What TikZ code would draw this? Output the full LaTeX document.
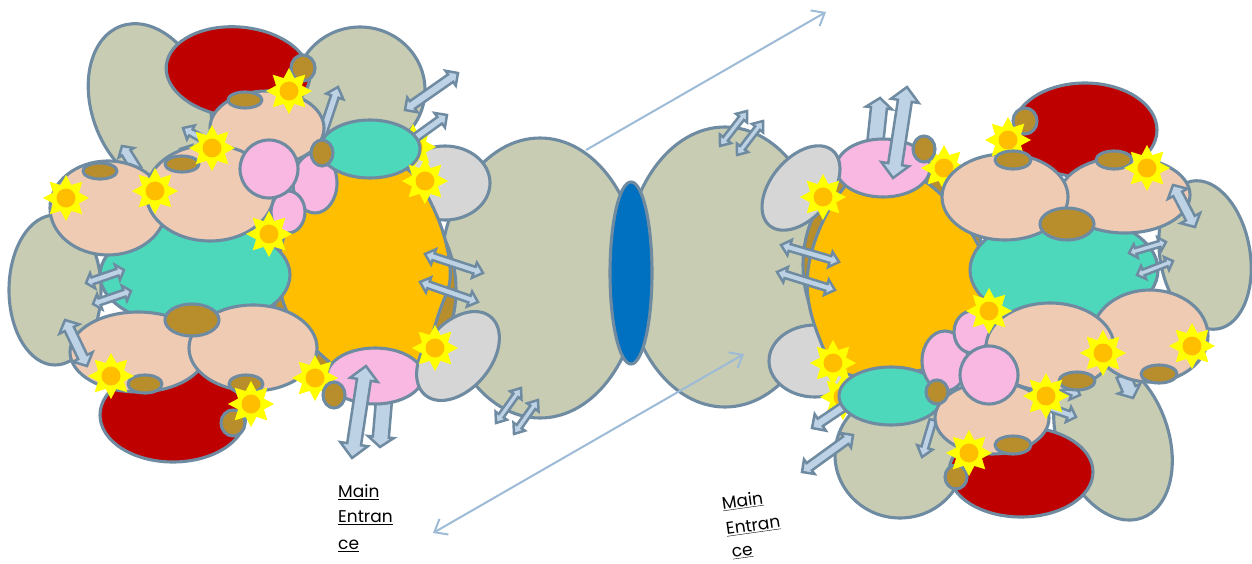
\documentclass[tikz,border=0pt]{standalone}
\usepackage{fontspec}
\usetikzlibrary{arrows.meta}
\setmainfont{Poppins}
\definecolor{edgec}{HTML}{6F8BA1}
\definecolor{khaki}{HTML}{C8CCB2}
\definecolor{redc}{HTML}{BF0000}
\definecolor{peach}{HTML}{F0CBB4}
\definecolor{tealc}{HTML}{4DD8BC}
\definecolor{orangec}{HTML}{FFBF00}
\definecolor{pinkc}{HTML}{F9B8E2}
\definecolor{grayc}{HTML}{D6D6D6}
\definecolor{brownc}{HTML}{B88E2C}
\definecolor{bluec}{HTML}{0070C0}
\definecolor{arrowfill}{HTML}{BED2E6}
\definecolor{linec}{HTML}{9DBBD6}
\definecolor{yellowc}{HTML}{FFFF00}
\tikzset{
  blobedge/.style={draw=edgec,line width=3.1pt,line join=round},
  arrowbody/.style={draw=edgec,fill=arrowfill,line width=2.5pt,line join=miter},
  thinline/.style={draw=linec,line width=2pt},
  linetip/.style={>={Straight Barb[length=11pt,width=18pt]}},
  textlabel/.style={anchor=west,inner sep=0pt,font=\fontsize{17}{20}\selectfont,text=black}
}
% #1 fill, #2 x, #3 y, #4 rx, #5 ry, #6 rotation
\newcommand{\blob}[6]{\path[blobedge,fill=#1,shift={(#2,#3)},rotate=#6] (0,0) ellipse [x radius=#4pt,y radius=#5pt];}
\newcommand{\sunny}[2]{\begin{scope}[shift={(#1,#2)}]
  \fill[yellowc] (0:23pt) \foreach \a in {0,45,...,315} { -- (\a+22.5:14pt) -- (\a+45:23pt)} -- cycle;
  \fill[orangec] (0,0) circle [radius=9.5pt];
\end{scope}}
\newcommand{\dblarrow}[7]{\pgfmathsetmacro\ang{atan2(-(#4-#2),#3-#1)}\pgfmathsetmacro\len{veclen(#3-#1,#4-#2)}
  \begin{scope}[shift={(#1,#2)},rotate=\ang]
  \path[arrowbody] (0pt,0pt) -- (#7pt,#6pt) -- (#7pt,#5pt) -- (\len pt-#7pt,#5pt) -- (\len pt-#7pt,#6pt) -- (\len pt,0pt) -- (\len pt-#7pt,-#6pt) -- (\len pt-#7pt,-#5pt) -- (#7pt,-#5pt) -- (#7pt,-#6pt) -- cycle;
  \end{scope}}
\newcommand{\sglarrow}[7]{\pgfmathsetmacro\ang{atan2(-(#4-#2),#3-#1)}\pgfmathsetmacro\len{veclen(#3-#1,#4-#2)}
  \begin{scope}[shift={(#1,#2)},rotate=\ang]
  \path[arrowbody] (0pt,#5pt) -- (\len pt-#7pt,#5pt) -- (\len pt-#7pt,#6pt) -- (\len pt,0pt) -- (\len pt-#7pt,-#6pt) -- (\len pt-#7pt,-#5pt) -- (0pt,-#5pt) -- cycle;
  \end{scope}}
\begin{document}
\begin{tikzpicture}[x=1pt,y=-1pt]
\useasboundingbox (0,0) rectangle (1252,564);
\coordinate (la) at (586,150); \coordinate (lb) at (826,12);
\coordinate (lc) at (744,354); \coordinate (ld) at (433,533);
\draw[thinline,linetip,->] (la) -- (lb);

% centre
\blob{khaki}{540}{278}{100}{140}{0}
\blob{khaki}{725}{267}{100}{140}{0}
\blob{bluec}{631}{273}{21}{91}{0}
\draw[thinline,linetip,<->] (lc) -- (ld);

% ---------- left cell ----------
\blob{khaki}{150}{106}{58}{85}{20}
\blob{khaki}{360}{90}{65}{63}{0}
\blob{khaki}{55}{290}{46}{75}{0}
\blob{redc}{238}{72}{72}{45}{-5}
\dblarrow{405}{110}{458}{73}{4.5}{9}{9}
\sglarrow{322}{135}{338}{87}{4}{9}{10}
\sglarrow{240}{160}{183}{128}{3.5}{8}{9}
\sglarrow{205}{160}{180}{149}{3.5}{8}{9}
\sglarrow{137}{170}{122}{146}{5}{9}{8}
\blob{grayc}{445}{183}{45}{37}{0}
\sunny{413}{147}
\sglarrow{415}{138}{447}{115}{4}{9}{9}
\blob{brownc}{365}{290}{91}{105}{0}
\path[blobedge,fill=orangec] plot[smooth cycle,tension=0.7] coordinates {(400,165) (432,205) (450,267) (440,310) (416,364) (370,375) (327,360) (282,298) (290,220) (340,160)};
\blob{pinkc}{315}{183}{22}{30}{0}
\blob{pinkc}{288}{212}{17}{21}{0}
\blob{tealc}{195}{275}{95}{52}{0}
\blob{peach}{267}{128}{57}{37}{0}
\blob{peach}{108}{208}{58}{47}{0}
\blob{peach}{210}{193}{64}{48}{0}
\blob{brownc}{100}{171}{17}{8}{0}
\blob{brownc}{182}{164}{17}{8}{0}
\blob{brownc}{245}{100}{17}{8}{0}
\blob{brownc}{303}{68}{12}{13}{0}
\sunny{289}{91}
\sunny{212}{148}
\sunny{155}{191}
\sunny{66}{198}
\blob{pinkc}{269}{169}{29}{29}{0}
\dblarrow{86}{283}{124}{270}{3.5}{8}{7}
\dblarrow{93}{304}{131}{291}{3.5}{8}{7}
\blob{tealc}{370}{149}{50}{29}{0}
\blob{brownc}{322}{153}{11}{13}{0}
\sunny{425}{181}
\blob{redc}{173}{415}{73}{47}{0}
\blob{peach}{138}{352}{68}{40}{0}
\blob{peach}{253}{348}{64}{43}{0}
\blob{brownc}{192}{320}{27}{16}{0}
\blob{brownc}{145}{384}{17}{9}{0}
\blob{brownc}{246}{384}{17}{9}{0}
\blob{brownc}{233}{423}{12}{13}{0}
\sunny{111}{376}
\sunny{251}{404}
\sunny{269}{234}
\dblarrow{65}{320}{87}{366}{5}{11}{10}
\sglarrow{384}{400}{380}{447}{8}{13}{10}
\blob{pinkc}{375}{376}{48}{28}{0}
\blob{grayc}{458}{356}{51}{33}{50}
\sunny{435}{348}
\sunny{315}{378}
\blob{brownc}{334}{395}{11}{13}{0}
\dblarrow{366}{366}{352}{458}{7}{14}{14}
\dblarrow{425}{254}{483}{273}{3.5}{8}{9}
\dblarrow{420}{282}{478}{302}{3.5}{8}{9}
\dblarrow{521}{388}{496}{423}{3}{7}{9}
\dblarrow{538}{400}{514}{434}{3}{7}{9}

% ---------- right cell ----------
\blob{khaki}{1205}{255}{45}{75}{10}
\blob{khaki}{900}{455}{65}{63}{0}
\blob{khaki}{1113}{438}{55}{85}{20}
\blob{redc}{1085}{130}{72}{47}{0}
\blob{redc}{1021}{472}{72}{45}{0}
\dblarrow{720}{146}{747}{111}{3}{7}{9}
\dblarrow{737}{155}{763}{121}{3}{7}{9}
\sglarrow{875}{145}{880}{98}{8}{13}{10}
\blob{grayc}{815}{361}{46}{36}{0}
\blob{brownc}{893}{265}{90}{105}{0}
\path[blobedge,fill=orangec] plot[smooth cycle,tension=0.7] coordinates {(885,172) (930,185) (977,243) (990,300) (960,360) (922,370) (850,375) (822,345) (808,270) (842,190)};
\sunny{843}{397}
\blob{pinkc}{883}{168}{47}{29}{0}
\blob{grayc}{801}{188}{49}{30}{50}
\sunny{833}{363}
\sunny{823}{197}
\sunny{944}{168}
\blob{brownc}{924}{149}{11}{13}{0}
\dblarrow{907}{87}{893}{178}{7}{14}{14}
\dblarrow{781}{245}{839}{262}{3.5}{8}{9}
\dblarrow{777}{272}{835}{290}{3.5}{8}{9}
\blob{tealc}{1064}{270}{94}{55}{0}
\dblarrow{1129}{253}{1166}{242}{3}{7}{7}
\dblarrow{1137}{275}{1173}{261}{3}{7}{7}
\blob{peach}{1125}{195}{65}{38}{0}
\blob{peach}{1005}{197}{63}{43}{0}
\blob{brownc}{1067}{224}{27}{16}{0}
\blob{brownc}{1025}{121}{12}{13}{0}
\sunny{1008}{140}
\blob{brownc}{1013}{160}{18}{9}{0}
\blob{brownc}{1114}{160}{18}{9}{0}
\sunny{1147}{168}
\dblarrow{1173}{185}{1195}{227}{5}{11}{10}
\sglarrow{1123}{375}{1133}{398}{7}{12}{10}
\sglarrow{1060}{387}{1080}{395}{3.5}{8}{8}
\sglarrow{1050}{408}{1076}{417}{3.5}{8}{8}
\sglarrow{843}{407}{812}{428}{4.5}{10}{10}
\dblarrow{853}{435}{802}{472}{4.5}{9}{9}
\sglarrow{933}{420}{922}{457}{3.5}{8}{10}
\blob{tealc}{891}{396}{52}{29}{0}
\blob{peach}{992}{418}{57}{36}{0}
\blob{pinkc}{945}{361}{23}{30}{0}
\blob{pinkc}{972}{332}{18}{21}{0}
\blob{peach}{1150}{336}{58}{46}{0}
\blob{peach}{1050}{347}{64}{44}{0}
\blob{pinkc}{989}{375}{29}{29}{0}
\blob{brownc}{937}{392}{11}{12}{0}
\blob{brownc}{1013}{445}{18}{9}{0}
\blob{brownc}{956}{477}{11}{12}{0}
\blob{brownc}{1077}{381}{18}{9}{0}
\blob{brownc}{1159}{374}{18}{9}{0}
\sunny{989}{311}
\sunny{1103}{353}
\sunny{1192}{346}
\sunny{1046}{396}
\sunny{969}{453}

% ---------- text ----------
\node[textlabel] (m1) at (338,492) {\underline{Main}};
\node[textlabel] (m2) at (338,518) {\underline{Entran}};
\node[textlabel] (m3) at (338,546) {\underline{ce}};
\node[textlabel,rotate=8] (r1) at (722,504) {\underline{Main}};
\node[textlabel,rotate=8] (r2) at (726,530) {\underline{Entran}};
\node[textlabel,rotate=8] (r3) at (732,554) {\underline{ce}};
\end{tikzpicture}
\end{document}
